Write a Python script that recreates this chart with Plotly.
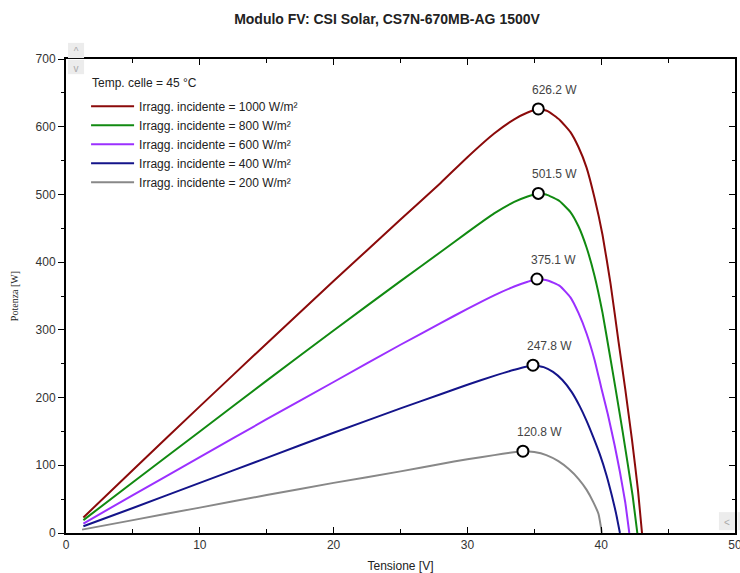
import plotly.graph_objects as go

# ---- data ----
v_1000 = [1.3, 5, 10, 15, 20, 25, 28, 30, 32, 33.5, 34.5, 35.3, 36.0, 36.9, 37.7, 38.3, 38.9, 39.5, 40.1, 40.7, 41.3, 41.8, 42.3, 42.75, 43.05]
p_1000 = [23, 93, 187, 280, 372, 463, 517, 555, 590, 611, 621, 626.2, 623, 610, 592, 570, 540, 495, 440, 368, 282, 212, 138, 63, 0]

v_800 = [1.3, 5, 10, 15, 20, 25, 28, 30, 32, 33.5, 34.5, 35.3, 36.0, 36.9, 37.7, 38.3, 38.9, 39.5, 40.1, 40.6, 41.1, 41.6, 42.0, 42.35, 42.7]
p_800 = [19, 75, 150, 225, 299, 372, 415, 444, 472, 489, 497, 501.5, 499, 490, 474, 453, 422, 380, 325, 268, 210, 150, 100, 55, 0]

v_600 = [1.3, 5, 10, 15, 20, 25, 28, 30, 32, 33.5, 34.5, 35.2, 36.0, 36.9, 37.7, 38.3, 38.9, 39.5, 40.0, 40.5, 41.0, 41.4, 41.8, 42.1]
p_600 = [14, 56, 112, 168, 223, 278, 310, 331, 351, 364, 371, 375.1, 373, 365, 348, 325, 295, 256, 215, 175, 130, 90, 45, 0]

v_400 = [1.3, 5, 10, 15, 20, 25, 28, 30, 32, 33.5, 34.9, 35.7, 36.4, 37.1, 37.8, 38.4, 38.9, 39.4, 39.9, 40.4, 40.8, 41.1, 41.4]
p_400 = [10, 37, 74, 111, 148, 184, 205, 219, 232, 241, 247.8, 245, 238, 226, 208, 187, 166, 142, 116, 85, 55, 30, 0]

v_200 = [1.2, 5, 10, 15, 20, 25, 28, 30, 32, 33.3, 34.15, 35.0, 35.9, 36.8, 37.6, 38.3, 38.9, 39.4, 39.8, 40.05]
p_200 = [5, 19, 37.5, 56, 74, 91, 102, 109, 115, 119, 120.8, 119.5, 115, 106, 94, 80, 64, 46, 28, 0]

series_names = ["Irragg. incidente = 1000 W/m²", "Irragg. incidente = 800 W/m²",
                "Irragg. incidente = 600 W/m²", "Irragg. incidente = 400 W/m²",
                "Irragg. incidente = 200 W/m²"]
series_v = [v_1000, v_800, v_600, v_400, v_200]
series_p = [p_1000, p_800, p_600, p_400, p_200]
series_colors = ["#8b0a0a", "#118a11", "#9b30ff", "#14148a", "#888888"]

mpp_v = [35.3, 35.3, 35.2, 34.9, 34.15]
mpp_p = [626.2, 501.5, 375.1, 247.8, 120.8]
mpp_labels = ["626.2 W", "501.5 W", "375.1 W", "247.8 W", "120.8 W"]

x_ticks = [0, 10, 20, 30, 40, 50]
y_ticks = [0, 100, 200, 300, 400, 500, 600, 700]

title_text = "Modulo FV: CSI Solar, CS7N-670MB-AG 1500V"
legend_title = "Temp. celle = 45 °C"
x_title = "Tensione [V]"
y_title = "Potenza [W]"

FONT = "Liberation Sans, Arial, sans-serif"

fig = go.Figure()
for name, vv, pp, col in zip(series_names, series_v, series_p, series_colors):
    fig.add_trace(go.Scatter(x=vv, y=pp, mode="lines", name=name,
                             line=dict(color=col, width=2, shape="spline", smoothing=0.4)))

fig.add_trace(go.Scatter(x=mpp_v, y=mpp_p, mode="markers", showlegend=False,
                         marker=dict(symbol="circle", size=11, color="white",
                                     line=dict(color="black", width=2))))

for vx, py, lab in zip(mpp_v, mpp_p, mpp_labels):
    fig.add_annotation(x=vx, y=py, text=lab, showarrow=False, xanchor="left",
                       yanchor="bottom", xshift=-8, yshift=10,
                       font=dict(family=FONT, size=12, color="#444444"))

# legend heading (drawn inside the plot, top-left)
fig.add_annotation(x=0.0355, y=0.95, xref="paper", yref="paper", text=legend_title,
                   showarrow=False, xanchor="left", yanchor="middle",
                   font=dict(family=FONT, size=12, color="#222222"))

# invisible trace for the mirrored right axis
fig.add_trace(go.Scatter(x=[0], y=[0], yaxis="y2", mode="markers",
                         marker=dict(opacity=0), showlegend=False, hoverinfo="skip"))

fig.update_layout(
    width=740, height=573,
    margin=dict(l=66, r=5, t=59, b=40, autoexpand=False),
    paper_bgcolor="white", plot_bgcolor="white",
    font=dict(family=FONT, size=12, color="#333333"),
    title=dict(text="<b>" + title_text + "</b>", x=0.523, xanchor="center", xref="container",
               y=0.967, yanchor="middle", font=dict(family=FONT, size=14, color="#222222")),
    showlegend=True,
    legend=dict(x=0.030, y=0.931, xanchor="left", yanchor="top", bgcolor="rgba(0,0,0,0)",
                font=dict(family=FONT, size=12, color="#222222"),
                tracegroupgap=0, itemwidth=43),
    xaxis=dict(range=[0, 50], tickvals=x_ticks, ticks="inside", ticklen=6,
               tickwidth=1, tickcolor="black", showline=True, linecolor="black", linewidth=2,
               mirror="ticks", showgrid=False, zeroline=False, automargin=False,
               ticklabeloverflow="allow",
               minor=dict(dtick=5, ticks="inside", ticklen=4, tickcolor="black"),
               title=dict(text=x_title, font=dict(family=FONT, size=12, color="#222222")),
               tickfont=dict(family=FONT, size=12, color="#333333")),
    yaxis=dict(range=[0, 700], tickvals=y_ticks, ticks="outside",
               ticklen=6, tickwidth=1, tickcolor="black", showline=True, linecolor="black",
               linewidth=2, showgrid=False, zeroline=False, automargin=False,
               ticklabeloverflow="allow",
               minor=dict(dtick=50, ticks="outside", ticklen=3, tickcolor="black"),
               title=dict(text=y_title,
                          font=dict(family="Liberation Serif, Times New Roman, serif", size=10, color="#222222")),
               tickfont=dict(family=FONT, size=12, color="#333333")),
    yaxis2=dict(range=[0, 700], overlaying="y", side="right", showticklabels=False,
                tickvals=y_ticks, ticks="inside", ticklen=6,
                tickcolor="black", showline=True, linecolor="black", linewidth=2,
                showgrid=False, zeroline=False, automargin=False,
                minor=dict(dtick=50, ticks="inside", ticklen=3, tickcolor="black")),
)

# small scroll-button decorations seen in the reference (shapes do not push margins)
for (x0, x1, y0, y1, txt) in [(0.003, 0.027, 1.002, 1.034, "^"),
                              (0.003, 0.027, 0.968, 0.998, "v"),
                              (0.976, 1.0, 0.006, 0.044, "<"),
                              (1.004, 1.02, 0.006, 0.044, "")]:
    fig.add_shape(type="rect", xref="paper", yref="paper", x0=x0, x1=x1, y0=y0, y1=y1,
                  fillcolor="#ececec", line=dict(width=0), layer="above",
                  label=dict(text=txt, font=dict(family=FONT, size=10, color="#aaaaaa")))

fig.write_html("out.html", config={"displayModeBar": False},
               post_script="document.body.style.margin='0';")
